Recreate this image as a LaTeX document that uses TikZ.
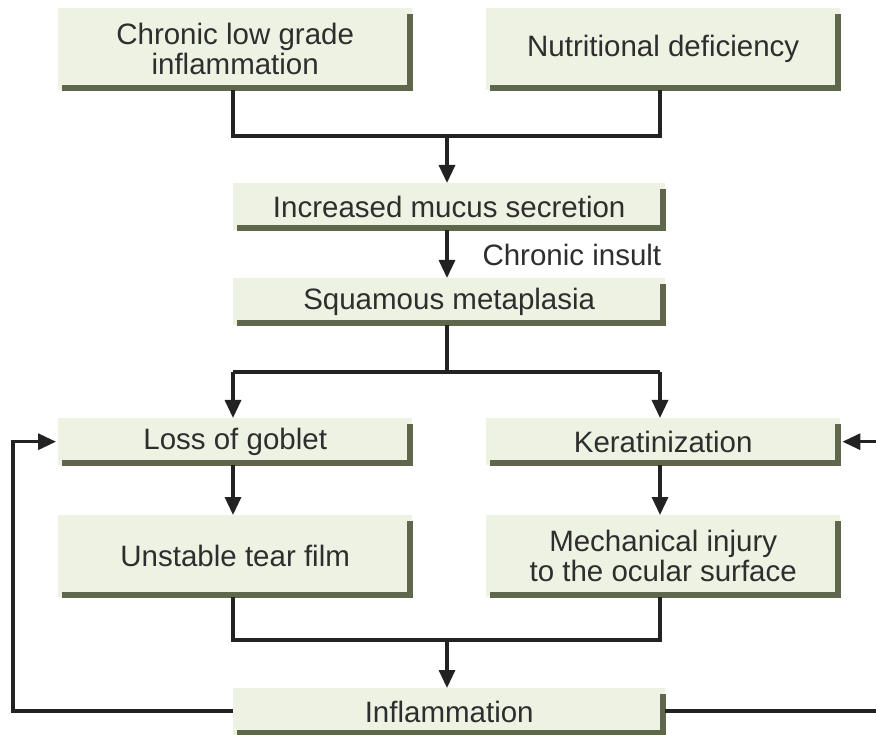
\documentclass[tikz,border=0pt]{standalone}
\usepackage{fontspec}
\setmainfont{Liberation Sans}
\usetikzlibrary{arrows.meta,calc}
\definecolor{boxfill}{HTML}{EEF2E3}
\definecolor{boxshade}{HTML}{5E674B}
\definecolor{txt}{HTML}{2E2E2E}
\definecolor{wire}{HTML}{222222}
\newcommand\lipbox[1]{%
  \draw[lip] ($(#1.south west)+(4,-2.5)$) -- ($(#1.south east)+(-2.5,-2.5)$) -- ($(#1.north east)+(-2.5,6)$);}
\begin{document}
\begin{tikzpicture}[x=1pt,y=-1pt,
  box/.style={rectangle, fill=boxfill, inner sep=0pt, align=center, text=txt,
    font=\fontsize{29.5}{30}\selectfont, anchor=north west},
  sidebox/.style={box, minimum width=354pt},
  midbox/.style={box, minimum width=432pt, minimum height=47pt},
  lip/.style={draw=boxshade, line width=5.5pt, line join=miter},
  wire/.style={draw=wire, line width=3.3pt},
  arr/.style={wire, -{Triangle[width=16pt,length=18pt]}}]
\useasboundingbox (0,0) rectangle (876,735);

% boxes
\node[sidebox, minimum height=82pt] (c1) at (58,8) {Chronic low grade\\inflammation};
\node[sidebox, minimum height=82pt] (c2) at (486,8) {Nutritional deficiency};
\node[midbox] (m1) at (233,183) {Increased mucus secretion};
\node[midbox] (m2) at (233,278) {Squamous metaplasia};
\node[sidebox, minimum height=47pt] (l1) at (58,418) {Loss of goblet};
\node[sidebox, minimum height=47pt] (r1) at (486,418) {Keratinization};
\node[sidebox, minimum height=82pt] (l2) at (58,515) {Unstable tear film};
\node[sidebox, minimum height=82pt] (r2) at (486,515) {Mechanical injury\\to the ocular surface};
\node[midbox] (inf) at (233,688) {Inflammation};

\foreach \b in {c1,c2,m1,m2,l1,r1,l2,r2,inf} {\lipbox{\b}}

\node[anchor=west, text=txt, font=\fontsize{29.5}{30}\selectfont] (ins) at (479,255) {Chronic insult};

% junction points
\coordinate (j1) at (447,136);
\coordinate (j2) at (447,372);
\coordinate (j3) at (447,640);
\coordinate (fl) at (13,711);
\coordinate (fr) at (880,711);

% connectors
\draw[wire] (c1.south -| 233,0) -- (233,136) -- (660,136) -- (c2.south -| 660,0);
\draw[arr] (j1) -- (j1 |- m1.north);
\draw[arr] (j1 |- m1.south) -- (j1 |- m2.north);
\draw[wire] (j1 |- m2.south) -- (j2);
\draw[arr] (233,372) -- (233,372 |- l1.north);
\draw[arr] (660,372) -- (660,372 |- r1.north);
\draw[wire] (233,372) -- (660,372);
\draw[arr] (233,0 |- l1.south) -- (233,0 |- l2.north);
\draw[arr] (660,0 |- r1.south) -- (660,0 |- r2.north);
\draw[wire] (233,0 |- l2.south) -- (233,640) -- (660,640) -- (660,0 |- r2.south);
\draw[arr] (j3) -- (j3 |- inf.north);
\draw[arr] (inf.west |- fl) -- (fl) -- (fl |- l1.west) -- ($(l1.west)+(-2,0)$);
\draw[arr] (inf.east |- fr) -- (fr) -- (fr |- r1.east) -- ($(r1.east)+(2,0)$);
\end{tikzpicture}
\end{document}
